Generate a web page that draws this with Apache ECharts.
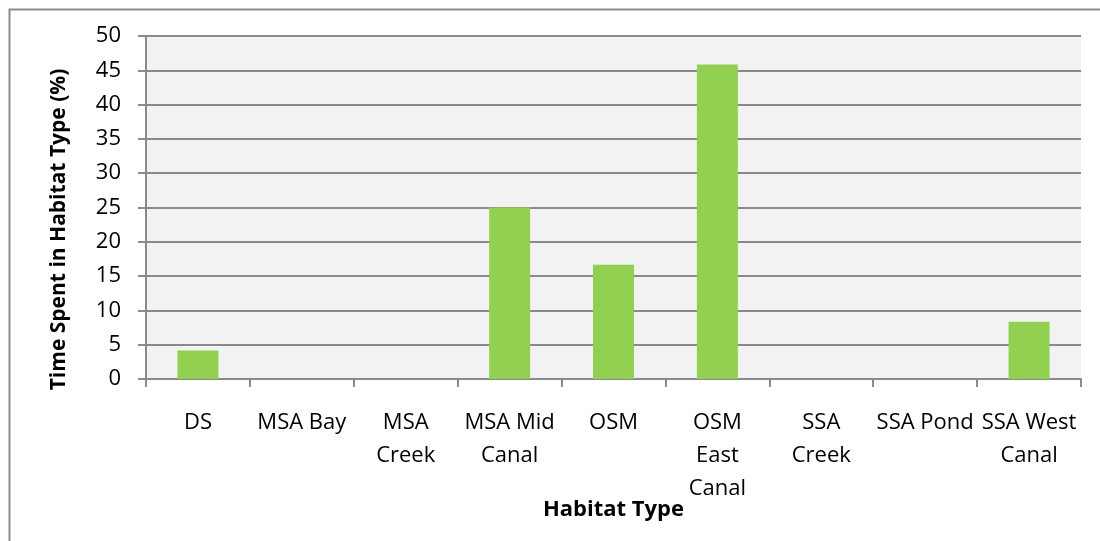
<!DOCTYPE html>
<html>
<head>
<meta charset="utf-8">
<script src="https://cdn.jsdelivr.net/npm/echarts@6/dist/echarts.min.js"></script>
<style>
  html, body { margin: 0; padding: 0; background: #ffffff; }
  #chart { width: 1100px; height: 541px; }
</style>
</head>
<body>
<div id="chart"></div>
<script>
// Share of time spent in each habitat type (%)
const categories = ['DS', 'MSA Bay', 'MSA\nCreek', 'MSA Mid\nCanal', 'OSM', 'OSM\nEast\nCanal', 'SSA\nCreek', 'SSA Pond', 'SSA West\nCanal'];
const timeSpent = [4.17, 0, 0, 25, 16.67, 45.83, 0, 0, 8.33];
const yTicks = { min: 0, max: 50, interval: 5 };

const FONT = '"Open Sans", "Liberation Sans", sans-serif';
const GRID_GRAY = '#8a8a8a';

const chart = echarts.init(document.getElementById('chart'), null, { renderer: 'canvas' });

chart.setOption({
  animation: false,
  backgroundColor: '#ffffff',
  graphic: [{
    type: 'rect',
    left: 7, top: 7,
    shape: { width: 1100, height: 540 },
    style: { fill: 'none', stroke: '#8c8c8c', lineWidth: 2 },
    silent: true
  }],
  grid: {
    left: 146, right: 19, top: 36, bottom: 162,
    show: true,
    backgroundColor: '#f2f2f2',
    borderWidth: 0
  },
  xAxis: {
    type: 'category',
    data: categories,
    boundaryGap: true,
    name: 'Habitat Type',
    nameLocation: 'middle',
    nameGap: 120,
    nameMoveOverlap: false,
    nameTextStyle: { fontFamily: FONT, fontSize: 22, fontWeight: 'bold', color: '#000' },
    axisLine: { show: true, lineStyle: { color: GRID_GRAY, width: 2 } },
    axisTick: { show: true, length: 8, alignWithLabel: false, lineStyle: { color: GRID_GRAY, width: 2 } },
    axisLabel: {
      interval: 0,
      margin: 27,
      fontFamily: FONT, fontSize: 22, color: '#000',
      lineHeight: 33, align: 'center'
    },
    splitLine: { show: false }
  },
  yAxis: {
    type: 'value',
    min: yTicks.min, max: yTicks.max, interval: yTicks.interval,
    name: 'Time Spent in Habitat Type (%)',
    nameLocation: 'middle',
    nameGap: 76,
    nameRotate: 90,
    nameMoveOverlap: false,
    nameTextStyle: {
      fontFamily: FONT, fontSize: 21, fontWeight: 'bold', color: '#000',
      padding: [0, 44, 0, 0]
    },
    axisLine: { show: true, lineStyle: { color: GRID_GRAY, width: 2 } },
    axisTick: { show: true, length: 8, lineStyle: { color: GRID_GRAY, width: 2 } },
    axisLabel: { margin: 25, fontFamily: FONT, fontSize: 22, color: '#000' },
    splitLine: { show: true, lineStyle: { color: GRID_GRAY, width: 2 } }
  },
  series: [{
    type: 'bar',
    data: timeSpent,
    barWidth: 41,
    itemStyle: { color: '#92d050' },
    z: 3
  }]
});
</script>
</body>
</html>
